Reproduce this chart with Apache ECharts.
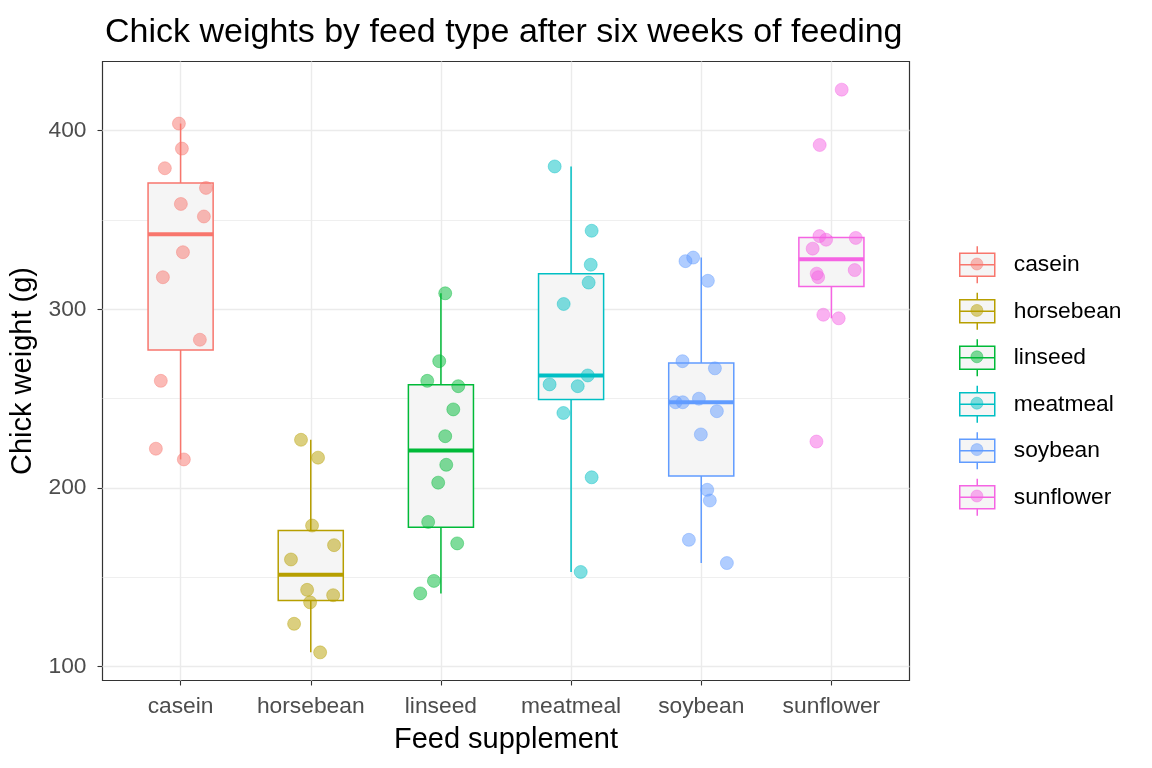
<!DOCTYPE html>
<html>
<head>
<meta charset="utf-8">
<title>Chick weights by feed type</title>
<script src="https://cdn.jsdelivr.net/npm/echarts@6/dist/echarts.min.js"></script>
<style>
  html, body { margin: 0; padding: 0; background: #fff; }
  #chart { width: 1152px; height: 768px; }
</style>
</head>
<body>
<div id="chart"></div>
<script>
// categories and colours (ggplot hue palette)
const feeds = ['casein', 'horsebean', 'linseed', 'meatmeal', 'soybean', 'sunflower'];
const feedColors = ['#F8766D', '#B79F00', '#00BA38', '#00BFC4', '#619CFF', '#F564E3'];

// weights per feed, and the horizontal jitter of each point (in category units)
const caseinWeights    = [404, 390, 379, 368, 359, 352, 332, 318, 283, 260, 222, 216];
const caseinJitter     = [-0.013, 0.010, -0.121, 0.195, 0.002, 0.179, 0.018, -0.136, 0.148, -0.152, -0.190, 0.025];
const horsebeanWeights = [227, 217, 179, 168, 160, 143, 140, 136, 124, 108];
const horsebeanJitter  = [-0.075, 0.056, 0.010, 0.179, -0.152, -0.028, 0.172, -0.005, -0.128, 0.072];
const linseedWeights   = [309, 271, 260, 257, 244, 229, 213, 203, 181, 169, 148, 141];
const linseedJitter    = [0.033, -0.013, -0.105, 0.133, 0.095, 0.033, 0.041, -0.021, -0.098, 0.125, -0.054, -0.159];
const meatmealWeights  = [380, 344, 325, 315, 303, 263, 258, 257, 242, 206, 153];
const meatmealJitter   = [-0.126, 0.158, 0.151, 0.135, -0.057, 0.128, -0.165, 0.051, -0.059, 0.158, 0.074];
const soybeanWeights   = [329, 327, 316, 271, 267, 250, 248, 248, 243, 230, 199, 193, 171, 158];
const soybeanJitter    = [-0.062, -0.121, 0.051, -0.144, 0.105, -0.018, -0.198, -0.142, 0.120, -0.003, 0.046, 0.066, -0.095, 0.197];
const sunflowerWeights = [423, 392, 341, 340, 339, 334, 322, 320, 318, 297, 295, 226];
const sunflowerJitter  = [0.079, -0.090, -0.092, 0.187, -0.041, -0.144, 0.179, -0.113, -0.102, -0.062, 0.056, -0.115];

const weights = [caseinWeights, horsebeanWeights, linseedWeights, meatmealWeights, soybeanWeights, sunflowerWeights];
const jitters = [caseinJitter, horsebeanJitter, linseedJitter, meatmealJitter, soybeanJitter, sunflowerJitter];

// axis ticks
const xTicks = [1, 2, 3, 4, 5, 6];
const yMajorTicks = [100, 200, 300, 400];
const yMinorTicks = [150, 250, 350];

const FONT = '"Liberation Sans", Arial, sans-serif';
const BOX_FILL = '#F5F5F5';
const BOX_HALF = 0.25;

// quantile, type 7 (R default)
function quantile(sorted, p) {
  const h = (sorted.length - 1) * p;
  const lo = Math.floor(h);
  const hi = Math.min(lo + 1, sorted.length - 1);
  return sorted[lo] + (h - lo) * (sorted[hi] - sorted[lo]);
}

// [lower whisker, q1, median, q3, upper whisker]
function boxStats(values) {
  const s = values.slice().sort((a, b) => a - b);
  const q1 = quantile(s, 0.25), med = quantile(s, 0.5), q3 = quantile(s, 0.75);
  const iqr = q3 - q1;
  const lo = Math.min(...s.filter(v => v >= q1 - 1.5 * iqr));
  const hi = Math.max(...s.filter(v => v <= q3 + 1.5 * iqr));
  return [lo, q1, med, q3, hi];
}

function renderBox(params, api) {
  const x = api.value(0);
  const col = api.visual('color');
  const lo = api.coord([x, api.value(1)]);
  const q1 = api.coord([x - BOX_HALF, api.value(2)]);
  const med = api.coord([x, api.value(3)]);
  const q3 = api.coord([x + BOX_HALF, api.value(4)]);
  const hi = api.coord([x, api.value(5)]);
  const line = { stroke: col, lineWidth: 1.5 };
  return {
    type: 'group',
    children: [
      { type: 'line', shape: { x1: hi[0], y1: hi[1], x2: hi[0], y2: q3[1] }, style: line },
      { type: 'line', shape: { x1: lo[0], y1: q1[1], x2: lo[0], y2: lo[1] }, style: line },
      {
        type: 'rect',
        shape: { x: q1[0], y: q3[1], width: q3[0] - q1[0], height: q1[1] - q3[1] },
        style: { fill: BOX_FILL, stroke: col, lineWidth: 1.5 }
      },
      { type: 'line', shape: { x1: q1[0], y1: med[1], x2: q3[0], y2: med[1] }, style: { stroke: col, lineWidth: 4 } }
    ]
  };
}

// legend key: whisker, box and median
const boxIcon = 'path://M17.5 0 L17.5 7 M0 7 L35 7 L35 30 L0 30 Z M0 18.5 L35 18.5 M17.5 30 L17.5 37';

const series = [];

// grid lines drawn under everything
series.push({
  type: 'scatter',
  name: 'gridlines',
  data: [],
  silent: true,
  markLine: {
    silent: true,
    symbol: 'none',
    animation: false,
    z: 1,
    label: { show: false },
    lineStyle: { color: '#EBEBEB', type: 'solid', width: 1.4 },
    data: [
      ...yMinorTicks.map(v => ({ yAxis: v, lineStyle: { width: 0.8, color: '#EBEBEB', type: 'solid' } })),
      ...yMajorTicks.map(v => ({ yAxis: v })),
      ...xTicks.map(v => ({ xAxis: v }))
    ]
  }
});

feeds.forEach((feed, i) => {
  const c = feedColors[i];
  series.push({
    type: 'custom',
    name: feed,
    renderItem: renderBox,
    encode: { x: 0, y: [1, 2, 3, 4, 5] },
    data: [[xTicks[i], ...boxStats(weights[i])]],
    itemStyle: { color: c },
    z: 6,
    silent: true
  });
  series.push({
    type: 'scatter',
    name: feed,
    data: weights[i].map((w, k) => [xTicks[i] + jitters[i][k], w]),
    symbolSize: 13,
    itemStyle: { color: c, borderColor: c, borderWidth: 0.8, opacity: 0.5 },
    z: 7
  });
});

const chart = echarts.init(document.getElementById('chart'), null, { renderer: 'canvas' });

chart.setOption({
  animation: false,
  backgroundColor: '#FFFFFF',
  textStyle: { fontFamily: FONT },
  title: {
    text: 'Chick weights by feed type after six weeks of feeding',
    left: 105,
    top: 16,
    padding: 0,
    textStyle: { fontFamily: FONT, fontSize: 34, fontWeight: 'normal', color: '#000' }
  },
  grid: {
    left: 102.5, top: 61.5, width: 807, height: 619,
    show: true, borderColor: '#333333', borderWidth: 1.2,
    backgroundColor: 'transparent',
    containLabel: false,
    outerBoundsMode: 'none'
  },
  legend: [
    {
      orient: 'vertical',
      left: 959, top: 245.5, padding: 0,
      itemWidth: 35, itemHeight: 37, itemGap: 8,
      selectedMode: false,
      textStyle: { fontFamily: FONT, fontSize: 22.8, color: '#000', padding: [0, 0, 0, 14] },
      data: feeds.map((f, i) => ({
        name: f,
        icon: boxIcon,
        itemStyle: { color: BOX_FILL, borderColor: feedColors[i], borderWidth: 1.5, opacity: 1 }
      }))
    },
    {
      orient: 'vertical',
      left: 970.5, top: 245.5, padding: 0,
      itemWidth: 12, itemHeight: 37, itemGap: 9.4,
      selectedMode: false,
      textStyle: { fontSize: 10, lineHeight: 37, color: 'transparent' },
      data: feeds.map((f, i) => ({
        name: f,
        icon: 'circle',
        itemStyle: { color: feedColors[i], borderColor: feedColors[i], borderWidth: 0.8, opacity: 0.5 }
      }))
    }
  ],
  xAxis: {
    type: 'value',
    min: 0.4, max: 6.6,
    name: 'Feed supplement',
    nameLocation: 'middle',
    nameGap: 45,
    nameTextStyle: { fontFamily: FONT, fontSize: 29, color: '#000' },
    axisLine: { show: false },
    axisTick: { show: true, customValues: xTicks, length: 5, lineStyle: { color: '#333333', width: 1.1 } },
    axisLabel: {
      customValues: xTicks,
      margin: 15,
      fontFamily: FONT, fontSize: 22.8, color: '#4D4D4D',
      formatter: v => feeds[Math.round(v) - 1]
    },
    splitLine: { show: false }
  },
  yAxis: {
    type: 'value',
    min: 92.25, max: 438.75,
    name: 'Chick weight (g)',
    nameLocation: 'middle',
    nameGap: 54,
    nameRotate: 90,
    nameTextStyle: { fontFamily: FONT, fontSize: 29, color: '#000' },
    axisLine: { show: false },
    axisTick: { show: true, customValues: yMajorTicks, length: 5, lineStyle: { color: '#333333', width: 1.1 } },
    axisLabel: {
      customValues: yMajorTicks,
      margin: 16,
      fontFamily: FONT, fontSize: 22.8, color: '#4D4D4D'
    },
    splitLine: { show: false }
  },
  series: series
});

window.addEventListener('resize', () => chart.resize());
</script>
</body>
</html>
